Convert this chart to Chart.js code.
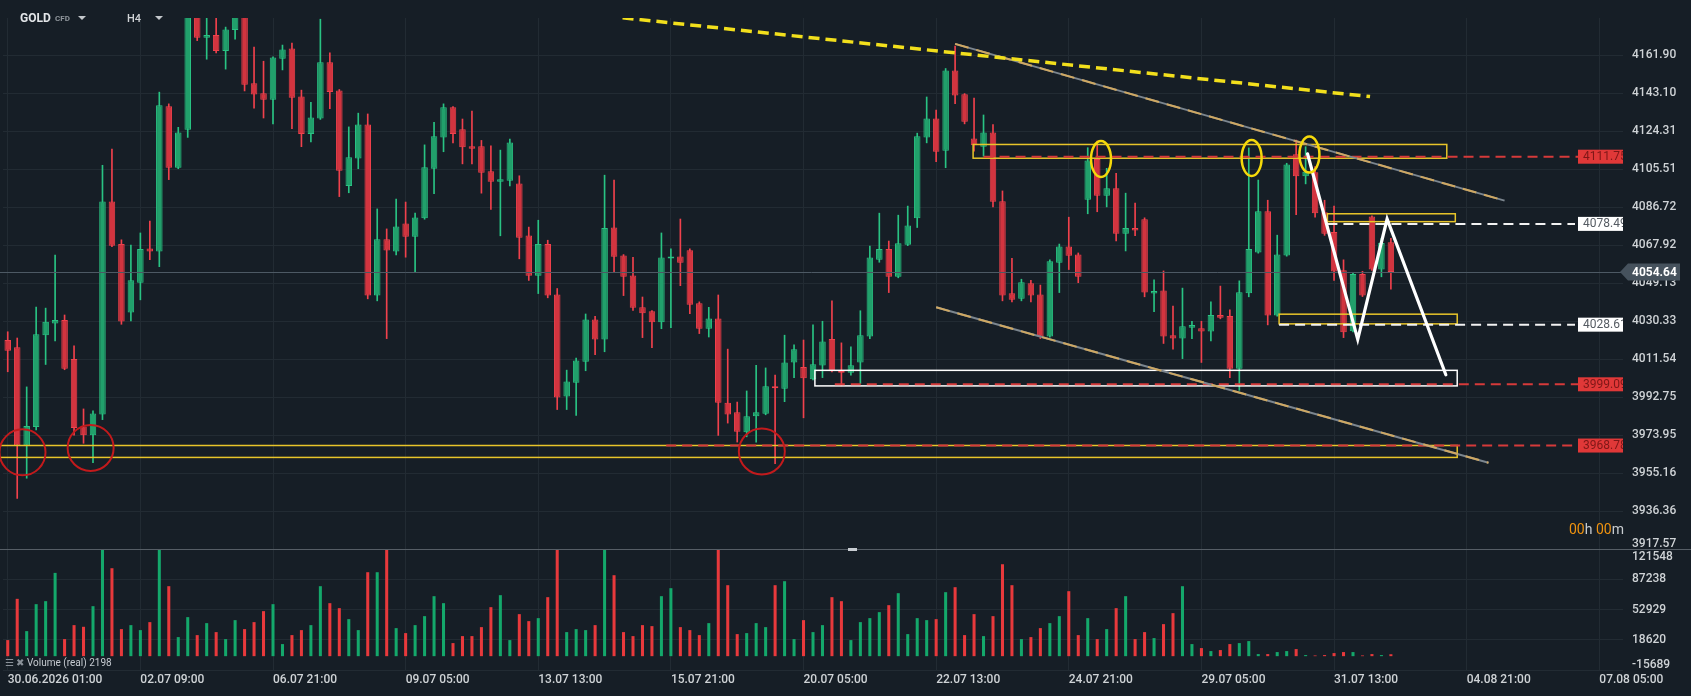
<!DOCTYPE html>
<html>
<head>
<meta charset="utf-8">
<title>GOLD H4</title>
<script src="https://cdn.jsdelivr.net/npm/chart.js@4.4.1/dist/chart.umd.min.js"></script>
<style>
  html, body { margin: 0; padding: 0; background: #161e26; }
  #wrap { position: relative; width: 1691px; height: 696px; overflow: hidden; font-family: Roboto, "Noto Sans", sans-serif; }
  #price-box { position: absolute; left: 0; top: 0; width: 1691px; height: 549px; }
  #volume-box { position: absolute; left: 0; top: 549px; width: 1691px; height: 147px; }
  .ov { position: absolute; white-space: nowrap; z-index: 5; }
  .tri { position: absolute; width: 0; height: 0; border-left: 4px solid transparent; border-right: 4px solid transparent; border-top: 4px solid #c3c7cb; z-index: 5; }
  #sep { position: absolute; left: 0; top: 548.5px; width: 1691px; height: 1px; background: #565e66; z-index: 4; }
  #handle { position: absolute; left: 848px; top: 548px; width: 9px; height: 3px; background: #c8cdd2; z-index: 5; }
</style>
</head>
<body>
<div id="wrap">
  <div id="price-box"><canvas id="price-chart"></canvas></div>
  <div id="volume-box"><canvas id="volume-chart"></canvas></div>
  <div id="sep"></div>
  <div id="handle"></div>
  <div class="ov" style="left:20px; top:11px; font-size:12px; font-weight:700; color:#e2e5e8;">GOLD</div>
  <div class="ov" style="left:55px; top:14px; font-size:8px; font-weight:700; color:#8f959b;">CFD</div>
  <div class="tri" style="left:78px; top:16px;"></div>
  <div class="ov" style="left:127px; top:12px; font-size:11px; font-weight:500; color:#d0d3d6;">H4</div>
  <div class="tri" style="left:155px; top:16px;"></div>
  <div class="ov" style="left:1569px; top:521px; font-size:14px; color:#c9cdd1;"><span style="color:#f0930f">00</span>h <span style="color:#f0930f">00</span>m</div>
  <div class="ov" id="vol-legend" style="left:5px; top:657px; font-size:10px; color:#c5cad0;"><span style="color:#8a9199">☰ ✖</span> <span id="vol-text"></span></div>
</div>
<script>
// ローソク足 (H4) 30.06 - 31.07
const opens = [4021.0,4017.4,3968.8,3977.9,4023.4,4029.2,4030.9,4011.6,3978.2,3973.9,
  3984.2,4089.6,4068.5,4034.6,4049.4,4066.3,4064.8,4136.7,4106.3,4125.1,
  4184.0,4170.6,4172.0,4164.1,4174.5,4182.0,4148.1,4143.2,4139.9,4160.2,
  4165.3,4141.6,4123.0,4130.7,4158.5,4144.5,4097.3,4110.8,4127.7,4043.0,
  4070.9,4064.8,4078.7,4072.1,4081.3,4105.8,4121.2,4136.2,4125.3,4116.9,
  4116.9,4104.6,4099.4,4099.9,4098.5,4072.8,4052.8,4068.5,4043.6,3993.0,
  3999.8,4010.2,4031.2,4021.3,4076.7,4062.9,4053.0,4037.2,4035.3,4029.8,
  4061.4,4062.4,4065.5,4039.2,4026.6,4031.7,3990.0,3985.2,3975.3,3983.3,
  3984.5,3998.1,3996.9,4009.9,4007.7,4001.6,4008.4,4021.5,4005.8,4004.8,
  4009.9,4022.7,4060.8,4066.0,4052.3,4068.2,4081.3,4121.3,4130.7,4114.7,
  4154.4,4142.7,4120.8,4116.7,4123.7,4089.7,4044.2,4041.4,4049.1,4043.6,
  4022.7,4059.3,4067.3,4063.4,4090.5,4110.6,4092.4,4096.1,4073.6,4076.4,
  4080.8,4044.0,4045.5,4023.4,4021.7,4027.1,4026.8,4025.2,4033.4,4032.9,
  4006.8,4044.2,4064.3,4084.7,4033.1,4062.9,4113.0,4102.1,4104.0,4084.2,
  4074.5,4055.6,4025.4,4053.7,4082.1,4055.9,4069.4];
const highs = [4025.1,4022.0,3997.8,4037.3,4036.8,4063.1,4033.4,4018.1,3986.9,3985.9,
  4107.5,4115.5,4070.6,4068.0,4074.0,4079.9,4143.7,4137.9,4126.3,4188.0,
  4188.0,4182.0,4183.0,4175.9,4185.0,4184.0,4166.0,4159.0,4161.2,4167.0,
  4168.0,4144.7,4138.7,4179.8,4163.1,4145.0,4126.5,4133.3,4132.9,4085.9,
  4076.0,4090.8,4089.3,4083.8,4117.6,4128.8,4137.9,4136.5,4130.4,4134.3,
  4119.8,4117.1,4115.0,4120.5,4102.3,4076.9,4080.3,4070.4,4046.5,4006.1,
  4012.1,4033.9,4032.7,4102.6,4100.2,4063.3,4062.0,4042.3,4035.6,4074.0,
  4066.1,4080.9,4066.1,4039.9,4037.2,4043.3,4016.5,3990.3,3995.8,4008.5,
  4007.2,4003.6,4023.4,4018.6,4021.0,4028.5,4030.3,4040.4,4019.6,4017.6,
  4035.5,4067.5,4083.8,4070.0,4082.8,4087.3,4123.4,4141.3,4134.8,4155.4,
  4166.5,4143.0,4140.8,4132.4,4127.6,4094.8,4061.5,4051.1,4050.6,4048.2,
  4060.7,4068.5,4081.8,4064.1,4116.2,4119.5,4106.0,4103.5,4093.7,4088.8,
  4081.5,4050.8,4055.2,4037.8,4046.7,4030.3,4030.3,4039.9,4047.7,4036.0,
  4050.3,4116.1,4100.2,4090.2,4072.9,4108.5,4120.0,4116.7,4106.8,4090.2,
  4087.3,4060.7,4054.4,4055.0,4082.5,4071.4,4071.3];
const lows = [4005.3,3942.6,3952.6,3976.5,4008.9,4020.6,4006.3,3973.9,3969.9,3960.3,
  3981.6,4067.2,4028.8,4030.5,4040.9,4060.8,4057.3,4100.4,4105.8,4121.3,
  4169.2,4160.0,4163.1,4155.1,4169.9,4144.3,4135.8,4130.9,4128.0,4154.7,
  4125.6,4116.7,4119.1,4130.2,4135.5,4092.0,4093.9,4105.8,4041.4,4040.4,
  4021.7,4063.1,4062.0,4054.7,4080.8,4093.4,4114.2,4118.6,4108.2,4108.2,
  4093.7,4085.6,4072.6,4097.3,4061.2,4050.5,4044.0,4041.9,3986.6,3986.6,
  3983.7,4005.8,4013.8,4015.2,4054.7,4043.0,4035.6,4022.2,4017.2,4026.6,
  4027.1,4047.9,4034.1,4024.2,4022.5,3973.8,3979.9,3970.5,3973.1,3970.5,
  3984.0,3959.8,3990.5,4002.4,3982.5,4001.2,4002.4,4005.2,3998.3,4003.6,
  3999.5,4021.7,4059.5,4044.5,4051.8,4067.7,4076.7,4118.6,4109.3,4106.3,
  4138.0,4128.0,4114.5,4112.0,4086.9,4040.4,4039.9,4040.4,4039.9,4021.7,
  4022.4,4044.5,4055.9,4049.4,4083.5,4084.5,4086.9,4070.0,4065.1,4072.6,
  4042.4,4035.1,4019.3,4016.5,4011.8,4021.7,4009.9,4020.6,4031.5,4002.4,
  3996.1,4042.4,4064.0,4028.5,4032.8,4062.5,4083.0,4098.3,4081.8,4072.8,
  4050.5,4022.2,4025.0,4042.5,4055.5,4052.3,4046.2];
const closes = [4015.7,3968.8,3978.5,4023.9,4030.0,4030.9,4006.8,3977.4,3973.9,3984.7,
  4089.6,4067.7,4030.2,4050.6,4066.0,4064.8,4137.2,4106.3,4123.7,4184.0,
  4170.6,4172.0,4164.1,4174.7,4182.0,4147.4,4142.5,4139.9,4160.9,4164.8,
  4140.9,4123.0,4131.2,4158.5,4143.8,4104.8,4111.5,4127.7,4043.0,4070.9,
  4065.3,4077.2,4072.1,4081.6,4106.5,4121.9,4136.2,4123.0,4116.4,4115.7,
  4103.8,4099.4,4100.6,4118.8,4071.6,4052.8,4068.5,4043.0,3992.5,4000.5,
  4010.9,4031.2,4021.3,4076.4,4062.2,4052.3,4037.0,4034.3,4029.8,4061.9,
  4062.4,4059.3,4038.5,4026.6,4031.7,3989.9,3984.2,3975.6,3983.3,3985.2,
  3998.1,3997.1,4009.9,4016.5,4002.1,4009.0,4020.3,4005.5,4004.8,4008.5,
  4023.4,4061.9,4066.0,4052.3,4068.9,4077.7,4121.9,4130.7,4114.2,4154.4,
  4142.0,4129.0,4117.4,4123.7,4089.5,4043.0,4040.9,4049.6,4043.0,4022.7,
  4060.0,4067.3,4062.7,4052.3,4109.9,4092.4,4096.1,4073.6,4076.4,4075.2,
  4044.5,4045.3,4022.7,4021.7,4027.8,4028.5,4025.2,4033.4,4032.0,4006.8,
  4044.7,4066.0,4084.7,4033.1,4063.4,4107.9,4102.1,4104.3,4083.7,4073.6,
  4054.9,4024.9,4053.7,4043.0,4055.9,4069.0,4054.64];
const volumes = [18229,65026,28418,58988,62384,94463,19361,35211,33324,56723,
  130000,99747,30683,35211,29550,38608,135000,79367,21625,44269,
  23889,37476,27286,19361,40872,30683,38608,51062,58988,13700,
  23889,29550,35211,79367,60120,54459,42005,29550,95218,95218,
  128000,31815,26154,35211,45401,68045,60120,14832,22757,22757,
  32947,55591,69177,18229,47666,39740,43137,66913,140000,27286,
  30683,29550,35211,132000,91821,27286,22757,35211,34079,68045,
  77103,32947,29550,23889,37476,140000,80499,25022,26154,37476,
  32947,80499,85028,19361,40872,27286,35211,66913,62384,18229,
  38608,43137,49930,57855,71442,25022,43137,40872,42005,72574,
  78235,23889,47666,22757,45401,104276,80499,19361,21625,31815,
  37476,45401,73706,23889,43137,19361,30683,54459,68045,19361,
  27286,20493,36344,48798,79367,13700,9171,5774,6906,13700,
  14832,17096,2378,2378,4642,5774,8039,1245,800,1245,
  3510,4642,4642,800,2378,1245,2198];

// 軸の目盛り
const slotCount = 171;
const xTickIndex = [0, 14, 28, 42, 56, 70, 84, 98, 112, 126, 140, 154, 168];
const xTickLabels = ['30.06.2026 01:00', '02.07 09:00', '06.07 21:00', '09.07 05:00', '13.07 13:00',
  '15.07 21:00', '20.07 05:00', '22.07 13:00', '24.07 21:00', '29.07 05:00', '31.07 13:00',
  '04.08 21:00', '07.08 05:00'];
const priceTickLabels = ['4161.90', '4143.10', '4124.31', '4105.51', '4086.72', '4067.92', '4049.13',
  '4030.33', '4011.54', '3992.75', '3973.95', '3955.16', '3936.36', '3917.57'];
const volumeTickLabels = ['121548', '87238', '52929', '18620', '-15689'];

// 描画オブジェクト (バー番号, 価格)
const longTrend = [[64.9, 4180.5], [143.8, 4141.5]];
const channelTop = [[100.0, 4167.6], [158.0, 4090.0]];
const channelBottom = [[98.0, 4037.2], [156.3, 3960.3]];
const zigzag = [[137.2, 4113.2], [142.5, 4021.3], [145.6, 4080.9], [151.8, 4003.8]];
const yellowZones = [[101.9, 151.9, 4117.8, 4111.0], [139.3, 152.8, 4083.5, 4079.6],
  [134.2, 153.0, 4033.8, 4029.0], [-1.0, 153.0, 3968.8, 3962.9]];
const whiteZones = [[85.2, 153.0, 4006.0, 3998.3]];
const redLevels = [4111.75, 3999.09, 3968.78];
const redLevelFrom = [103.0, 87.3, 69.5];
const whiteLevels = [4078.49, 4028.61];
const whiteLevelFrom = [139.3, 134.2];
const yellowMarks = [[115.4, 4110.6], [131.3, 4111.1], [137.4, 4112.8]];
const redMarks = [[1.56, 3965.4], [8.75, 3967.6], [79.6, 3965.8]];

const gridColor = '#222b33';
const textColor = '#cfd3d6';
const axisWidth = 68;

const up = closes.map((c, i) => c >= opens[i]);
const bodyFill = up.map(u => u ? '#21a06b' : '#d2343f');
const bodyLine = up.map(u => u ? '#29c383' : '#f0414c');
const volColor = up.map(u => u ? '#14a86b' : '#e8393c');

const bodyData = opens.map((o, i) => ({ x: i, y: [o, closes[i]] }));
const wickData = lows.map((l, i) => ({ x: i, y: [l, highs[i]] }));
const volData = volumes.map((v, i) => ({ x: i, y: v }));

document.getElementById('vol-text').textContent = 'Volume (real) ' + volumes[volumes.length - 1];

// 右側の目盛り文字 (端は枠内に収める)
const axisText = {
  id: 'axisText',
  afterDraw(chart, args, opts) {
    const { ctx, chartArea: a } = chart;
    const s = chart.scales.y;
    ctx.save();
    ctx.font = '500 12px Roboto';
    ctx.fillStyle = textColor;
    ctx.textAlign = 'left';
    ctx.textBaseline = 'middle';
    s.ticks.forEach((t, k) => {
      const yy = Math.min(Math.max(s.getPixelForValue(t.value), a.top + 8), a.bottom - 5);
      ctx.fillText(opts.labels[k], a.right + 9, yy);
    });
    ctx.restore();
  }
};

function priceTag(ctx, left, right, yy, text, bg, fg) {
  ctx.save();
  ctx.fillStyle = bg;
  ctx.fillRect(left, yy - 7, right - left, 14);
  ctx.beginPath();
  ctx.rect(left, yy - 7, right - left, 14);
  ctx.clip();
  ctx.fillStyle = fg;
  ctx.font = '12px Roboto';
  ctx.textBaseline = 'middle';
  ctx.fillText(text, left + 5, yy + 0.5);
  ctx.restore();
}

// トレンドライン・ゾーンなど
const drawings = {
  id: 'drawings',
  afterDatasetsDraw(chart) {
    const { ctx, chartArea: a, scales: { x, y } } = chart;
    const px = v => x.getPixelForValue(v);
    const py = v => y.getPixelForValue(v);
    const line = (pts) => {
      ctx.beginPath();
      pts.forEach((p, k) => k ? ctx.lineTo(px(p[0]), py(p[1])) : ctx.moveTo(px(p[0]), py(p[1])));
      ctx.stroke();
    };
    ctx.save();
    ctx.beginPath();
    ctx.rect(a.left - 3, a.top, a.right - a.left + 3, a.bottom - a.top);
    ctx.clip();

    // 現在値ライン
    const last = closes[closes.length - 1];
    ctx.strokeStyle = '#4d5964';
    ctx.lineWidth = 1;
    ctx.beginPath();
    ctx.moveTo(a.left - 3, Math.round(py(last)) + 0.5);
    ctx.lineTo(a.right, Math.round(py(last)) + 0.5);
    ctx.stroke();

    // ゾーン
    ctx.lineWidth = 1.5;
    ctx.strokeStyle = '#e8c52a';
    yellowZones.forEach(z => ctx.strokeRect(px(z[0]), py(z[2]), px(z[1]) - px(z[0]), py(z[3]) - py(z[2])));
    ctx.strokeStyle = '#ffffff';
    whiteZones.forEach(z => ctx.strokeRect(px(z[0]), py(z[2]), px(z[1]) - px(z[0]), py(z[3]) - py(z[2])));

    // 水平ライン
    const tagLeft = a.right - 45;
    ctx.lineWidth = 2;
    ctx.setLineDash([10, 6]);
    ctx.strokeStyle = '#d63a3a';
    redLevels.forEach((v, k) => line([[redLevelFrom[k], v], [x.getValueForPixel(tagLeft), v]]));
    ctx.strokeStyle = '#f2f2f2';
    whiteLevels.forEach((v, k) => line([[whiteLevelFrom[k], v], [x.getValueForPixel(tagLeft - 3), v]]));

    // チャネル
    [channelTop, channelBottom].forEach(c => {
      ctx.setLineDash([]);
      ctx.strokeStyle = '#7b858e';
      ctx.lineWidth = 2;
      line(c);
      ctx.setLineDash([14, 8]);
      ctx.strokeStyle = '#cfa862';
      line(c);
    });

    // 長期トレンド (黄色破線)
    ctx.setLineDash([11, 6]);
    ctx.strokeStyle = '#f2df1c';
    ctx.lineWidth = 3.5;
    line(longTrend);

    // ジグザグ
    ctx.setLineDash([]);
    ctx.strokeStyle = '#ffffff';
    ctx.lineWidth = 3.2;
    ctx.lineCap = 'round';
    ctx.lineJoin = 'miter';
    line(zigzag);

    // マーカー
    ctx.lineWidth = 2.5;
    ctx.strokeStyle = '#f5d90a';
    yellowMarks.forEach(m => {
      ctx.beginPath();
      ctx.ellipse(px(m[0]), py(m[1]), 10, 18, 0, 0, Math.PI * 2);
      ctx.stroke();
    });
    ctx.lineWidth = 2;
    ctx.strokeStyle = '#c21a1c';
    redMarks.forEach(m => {
      ctx.beginPath();
      ctx.arc(px(m[0]), py(m[1]), 23, 0, Math.PI * 2);
      ctx.stroke();
    });

    // 価格タグ
    redLevels.forEach(v => priceTag(ctx, tagLeft, a.right, py(v), v.toFixed(2), '#e03838', '#7e1717'));
    whiteLevels.forEach(v => priceTag(ctx, tagLeft, a.right, py(v), v.toFixed(2), '#ffffff', '#555b62'));
    ctx.restore();
  },
  afterDraw(chart) {
    const { ctx, chartArea: a, scales: { y } } = chart;
    const last = closes[closes.length - 1];
    const yy = y.getPixelForValue(last);
    ctx.save();
    ctx.fillStyle = '#46525d';
    ctx.beginPath();
    ctx.moveTo(a.right - 3, yy);
    ctx.lineTo(a.right + 5, yy - 8.5);
    ctx.lineTo(a.right + 57, yy - 8.5);
    ctx.lineTo(a.right + 57, yy + 8.5);
    ctx.lineTo(a.right + 5, yy + 8.5);
    ctx.closePath();
    ctx.fill();
    ctx.fillStyle = '#ffffff';
    ctx.font = '700 12px Roboto';
    ctx.textBaseline = 'middle';
    ctx.fillText(last.toFixed(2), a.right + 9, yy + 0.5);
    ctx.restore();
  }
};

const xBase = {
  type: 'linear',
  min: -0.5,
  max: slotCount - 0.5,
  offset: false,
  afterBuildTicks: s => { s.ticks = xTickIndex.map(v => ({ value: v })); },
  grid: { color: gridColor, drawTicks: false, offset: false },
  border: { display: false }
};

new Chart(document.getElementById('price-chart'), {
  type: 'bar',
  data: {
    datasets: [
      { data: wickData, backgroundColor: bodyLine, barThickness: 1, grouped: false, order: 2 },
      { data: bodyData, backgroundColor: bodyFill, borderColor: bodyLine, borderWidth: 1,
        borderSkipped: false, grouped: false, barPercentage: 0.69, categoryPercentage: 1, order: 1 }
    ]
  },
  options: {
    responsive: true,
    maintainAspectRatio: false,
    animation: false,
    layout: { padding: { left: 3, top: 18, right: 0, bottom: 0 } },
    plugins: { legend: { display: false }, tooltip: { enabled: false }, axisText: { labels: priceTickLabels } },
    scales: {
      x: Object.assign({}, xBase, { ticks: { display: false }, afterFit: s => { s.height = 0; } }),
      y: {
        position: 'right',
        min: 3917.57,
        max: 4180.4,
        afterBuildTicks: s => { s.ticks = priceTickLabels.map(v => ({ value: Number(v) })); },
        afterFit: s => { s.width = axisWidth; },
        ticks: { display: false },
        grid: { color: gridColor, drawTicks: false },
        border: { display: false }
      }
    }
  },
  plugins: [axisText, drawings]
});

new Chart(document.getElementById('volume-chart'), {
  type: 'bar',
  data: {
    datasets: [
      { data: volData, backgroundColor: volColor, barPercentage: 0.32, categoryPercentage: 1 }
    ]
  },
  options: {
    responsive: true,
    maintainAspectRatio: false,
    animation: false,
    layout: { padding: { left: 3, top: 0, right: 0, bottom: 0 } },
    plugins: { legend: { display: false }, tooltip: { enabled: false }, axisText: { labels: volumeTickLabels } },
    scales: {
      x: Object.assign({}, xBase, {
        afterFit: s => { s.height = 26; },
        ticks: {
          autoSkip: false,
          maxRotation: 0,
          align: 'start',
          padding: 3,
          color: textColor,
          font: { family: 'Roboto', size: 12, weight: '500' },
          callback: (v, k) => xTickLabels[k]
        }
      }),
      y: {
        position: 'right',
        min: -15689,
        max: 121548,
        afterBuildTicks: s => { s.ticks = volumeTickLabels.map(v => ({ value: Number(v) })); },
        afterFit: s => { s.width = axisWidth; },
        ticks: { display: false },
        grid: { color: gridColor, drawTicks: false },
        border: { display: false }
      }
    }
  },
  plugins: [axisText]
});
</script>
</body>
</html>
